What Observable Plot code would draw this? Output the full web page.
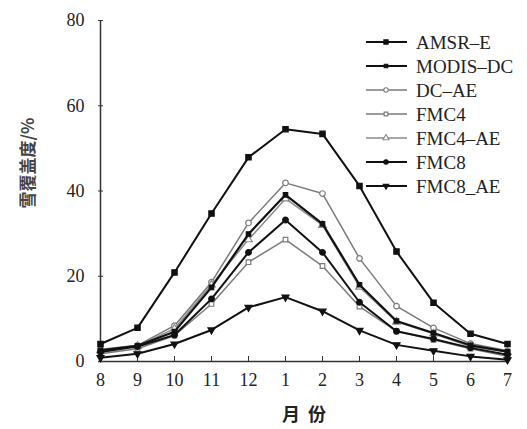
<!DOCTYPE html>
<html><head><meta charset="utf-8">
<script src="https://cdn.jsdelivr.net/npm/d3@7"></script>
<script src="https://cdn.jsdelivr.net/npm/@observablehq/plot@0.6"></script>
<style>body{margin:0;background:#fff;} #chart svg{display:block;}</style>
</head><body><div id="chart"></div>
<script>
const months = ["8","9","10","11","12","1","2","3","4","5","6","7"];
const yTicks = [0, 20, 40, 60, 80];
const seriesNames = ["AMSR\u2013E", "MODIS\u2013DC", "DC\u2013AE", "FMC4", "FMC4\u2013AE", "FMC8", "FMC8_AE"];
const amsrE    = [4.1, 7.9, 20.9, 34.7, 47.9, 54.5, 53.4, 41.2, 25.8, 13.8, 6.5, 4.1];
const modisDC  = [2.6, 3.7, 7.0, 17.4, 29.9, 39.1, 32.3, 18.0, 9.5, 6.7, 3.8, 2.3];
const dcAE     = [2.8, 3.8, 8.4, 18.6, 32.5, 41.9, 39.4, 24.2, 13.0, 7.9, 4.2, 2.5];
const fmc4     = [1.8, 3.0, 6.1, 13.5, 23.3, 28.6, 22.4, 12.9, 7.1, 5.1, 3.0, 1.2];
const fmc4AE   = [2.6, 3.6, 7.7, 18.0, 28.6, 38.2, 32.0, 17.5, 9.3, 6.5, 3.5, 2.2];
const fmc8     = [2.2, 3.5, 6.2, 14.7, 25.6, 33.2, 25.6, 13.9, 7.1, 5.3, 3.2, 1.6];
const fmc8AE   = [0.9, 1.8, 4.1, 7.4, 12.7, 15.1, 11.8, 7.3, 3.9, 2.5, 1.2, 0.4];
const seriesValues = [amsrE, modisDC, dcAE, fmc4, fmc4AE, fmc8, fmc8AE];

const downTriangle = {
  draw(context, size) {
    const a = Math.sqrt(4 * size / Math.sqrt(3));
    const h = Math.sqrt(3) / 2 * a;
    context.moveTo(0, h * 2 / 3);
    context.lineTo(a / 2, -h / 3);
    context.lineTo(-a / 2, -h / 3);
    context.closePath();
  }
};

const styles = [
  {stroke: "#111", width: 2, symbol: "square", fill: "#111", r: 3},
  {stroke: "#111", width: 2.2, symbol: "square", fill: "#111", r: 2.5},
  {stroke: "#7a7a7a", width: 1.5, symbol: "circle", fill: "white", r: 2.8},
  {stroke: "#7a7a7a", width: 1.5, symbol: "square", fill: "white", r: 2.6},
  {stroke: "#8a8a8a", width: 1.5, symbol: "triangle", fill: "white", r: 2.8},
  {stroke: "#111", width: 2, symbol: "circle", fill: "#111", r: 2.8},
  {stroke: "#111", width: 2, symbol: downTriangle, fill: "#111", r: 2.6}
];

const rows = seriesNames.flatMap((name, s) => months.map((m, i) => ({series: name, month: m, value: seriesValues[s][i]})));

const drawOrder = [2, 3, 4, 0, 1, 5, 6];
const seriesMarks = drawOrder.flatMap(s => {
  const st = styles[s];
  const data = rows.filter(d => d.series === seriesNames[s]);
  return [
    Plot.line(data, {x: "month", y: "value", stroke: st.stroke, strokeWidth: st.width}),
    Plot.dot(data, {x: "month", y: "value", symbol: () => st.symbol, fill: st.fill, stroke: st.stroke, strokeWidth: 1.2, r: st.r})
  ];
});

const chart = Plot.plot({
  width: 527,
  height: 429,
  marginLeft: 98,
  marginRight: 18,
  marginTop: 20,
  marginBottom: 68,
  style: {fontFamily: "'Liberation Serif', 'DejaVu Serif', serif", fontSize: "18px", color: "#222", background: "white"},
  x: {type: "point", domain: months, padding: 0},
  y: {domain: [0, 80]},
  symbol: {type: "identity"},
  marks: [
    Plot.axisY(yTicks, {tickSize: -5, text: null, label: null, stroke: "#333"}),
    Plot.axisY(yTicks, {tickSize: 0, tickPadding: 14, label: null, fontSize: 18, fill: "#222"}),
    Plot.axisX(months, {tickSize: -5, text: null, label: null, stroke: "#333"}),
    Plot.axisX(months, {tickSize: 0, tickPadding: 12, label: null, fontSize: 18, fill: "#222"}),
    Plot.ruleX([months[0]], {stroke: "#333", strokeWidth: 1.5}),
    Plot.ruleY([0], {stroke: "#333", strokeWidth: 1.5}),
    ...seriesMarks
  ]
});

document.getElementById("chart").appendChild(chart);

const svg = d3.select(chart);
// axis titles
svg.append("text")
  .attr("transform", "translate(26,163) rotate(-90)")
  .attr("text-anchor", "middle")
  .attr("dominant-baseline", "central")
  .attr("font-family", "'Noto Sans CJK SC', sans-serif")
  .attr("font-weight", "bold")
  .attr("font-size", 17)
  .attr("fill", "#444")
  .text("雪覆盖度/%");
svg.append("text")
  .attr("x", 304).attr("y", 413)
  .attr("text-anchor", "middle")
  .attr("dominant-baseline", "central")
  .attr("font-family", "'Noto Sans CJK SC', sans-serif")
  .attr("font-weight", "bold")
  .attr("font-size", 18)
  .attr("fill", "#222")
  .attr("xml:space", "preserve")
  .text("月  份");

// legend
const lg = svg.append("g");
seriesNames.forEach((name, i) => {
  const st = styles[i];
  const y = 42 + i * 24;
  lg.append("line").attr("x1", 366).attr("x2", 407).attr("y1", y).attr("y2", y)
    .attr("stroke", st.stroke).attr("stroke-width", st.width);
  const sym = typeof st.symbol === "string" ? {square: d3.symbolSquare, circle: d3.symbolCircle, triangle: d3.symbolTriangle}[st.symbol] : st.symbol;
  const rr = st.r * 0.8;
  lg.append("path").attr("transform", `translate(386,${y})`)
    .attr("d", d3.symbol(sym, Math.PI * rr * rr)())
    .attr("fill", st.fill).attr("stroke", st.stroke).attr("stroke-width", 1.1);
  lg.append("text").attr("x", 416).attr("y", y)
    .attr("text-anchor", "start")
    .attr("dominant-baseline", "central")
    .attr("font-family", "'Liberation Serif', 'DejaVu Serif', serif")
    .attr("font-size", 19)
    .attr("fill", "#222")
    .text(name);
});
</script>
</body></html>
